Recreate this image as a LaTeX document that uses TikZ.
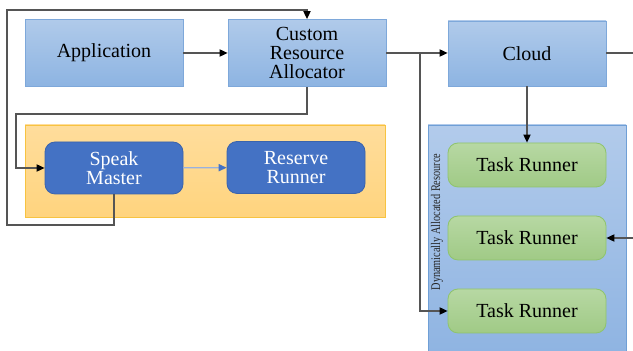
\documentclass[tikz,border=0pt]{standalone}
\usepackage{fontspec}
\setmainfont{Liberation Serif}
\newfontfamily\diagfont{Liberation Serif}
\newfontfamily\narrowfont[FakeStretch=0.78]{Liberation Serif}
\usetikzlibrary{calc, arrows.meta}

\definecolor{boxtop}{HTML}{B0CAEA}
\definecolor{boxbot}{HTML}{8DB4E2}
\definecolor{boxline}{HTML}{7EA8DA}
\definecolor{masterfill}{HTML}{4472C4}
\definecolor{masterline}{HTML}{3A63AC}
\definecolor{zonetop}{HTML}{FFDD9C}
\definecolor{zonebot}{HTML}{FFD47E}
\definecolor{zoneline}{HTML}{F7C341}
\definecolor{pooltop}{HTML}{B2CBEB}
\definecolor{poolbot}{HTML}{8FB4E2}
\definecolor{poolline}{HTML}{6F9FD6}
\definecolor{runtop}{HTML}{B7D8A3}
\definecolor{runbot}{HTML}{A0CA86}
\definecolor{runline}{HTML}{8FC46C}
\definecolor{wire}{HTML}{555555}

\tikzset{
	block/.style = {rectangle, draw = boxline, top color = boxtop, bottom color = boxbot,
		minimum width = 79pt, minimum height = 33.5pt, align = center,
		font = \diagfont\fontsize{10}{9.5}\selectfont, inner sep = 0pt},
	master/.style = {rectangle, rounded corners = 5pt, draw = masterline, fill = masterfill,
		text = white, minimum width = 69pt, minimum height = 26pt, align = center,
		font = \diagfont\fontsize{10}{9.5}\selectfont, inner sep = 0pt},
	runner/.style = {rectangle, rounded corners = 5pt, draw = runline, top color = runtop,
		bottom color = runbot, minimum width = 79pt, minimum height = 22pt,
		font = \diagfont\fontsize{10}{11}\selectfont, inner sep = 0pt},
	wire/.style = {draw = wire, line width = 0.6pt},
	link/.style = {wire, -{Triangle[length = 4pt, width = 3.6pt, color = black]}}
}

\begin{document}
\begin{tikzpicture}[x = 0.5pt, y = -0.5pt]
		\useasboundingbox (0,0) rectangle (633,351);

		% containers
		\node [rectangle, draw = zoneline, top color = zonetop, bottom color = zonebot,
			minimum width = 180pt, minimum height = 46pt] (master zone) at (205,171) {};
		\node [rectangle, draw = poolline, top color = pooltop, bottom color = poolbot,
			minimum width = 99pt, minimum height = 113.5pt] (pool) at (527,238.5) {};
		\node [rotate = 90, font = \narrowfont\fontsize{6.6}{7}\selectfont, text = black!85]
			(pool label) at (437,222) {Dynamically Allocated Resource};

		\node [block] (application) at (104,53) {Application};
		\node [block] (allocator) at (307,53) {Custom\\Resource\\Allocator};
		\node [block, minimum height = 32.5pt] (cloud) at (527,53.5) {Cloud};

		\node [master] (speak) at (114,168) {Speak\\Master};
		\node [master] (reserve) at (296,167.5) {Reserve\\Runner};

		\node [runner] (runner 1) at (527,165) {Task Runner};
		\node [runner] (runner 2) at (527,238) {Task Runner};
		\node [runner] (runner 3) at (527,311) {Task Runner};

		\coordinate (split) at (420,53);
		\coordinate (loop a) at (16,114);
		\coordinate (loop b) at (7,225);
		\coordinate (loop c) at (7,10);
		\coordinate (far right) at (650,53);

		\draw [link] (application) -- (allocator);
		\draw [link] (allocator.east) -- (cloud.west |- split);
		\draw [link] (split) |- (runner 3.west);
		\draw [link] (cloud.south) -- (runner 1.north);
		\draw [link] (cloud.east |- far right) -- (far right) |- (runner 2.east);
		\draw [link] (allocator.south) |- (loop a) |- (speak.west);
		\draw [link] (speak.south) |- (loop b) -- (loop c) -| (allocator.north);
		\draw [draw = masterfill!55, line width = 0.6pt,
			-{Triangle[length = 4pt, width = 3.6pt, color = masterfill]}] (speak) -- (reserve);
	\end{tikzpicture}
\end{document}
